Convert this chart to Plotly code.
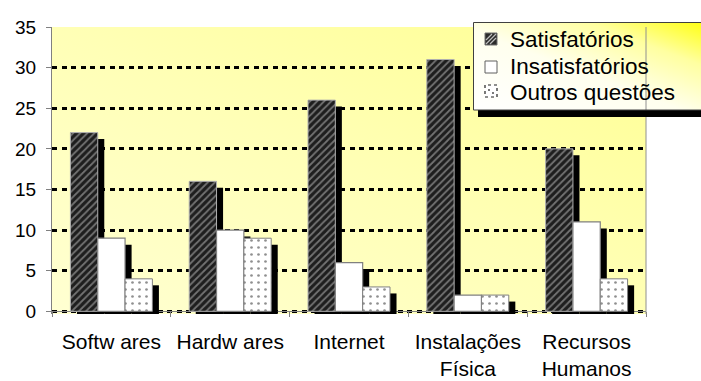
import base64
import plotly.graph_objects as go

# ---------------- data ----------------
categories = ["Softw ares", "Hardw ares", "Internet", "Instalações<br>Física", "Recursos<br>Humanos"]
series_names = ["Satisfatórios", "Insatisfatórios", "Outros questões"]
satisfatorios = [22, 16, 26, 31, 20]
insatisfatorios = [9, 10, 6, 2, 11]
outros = [4, 9, 3, 2, 4]
y_ticks = [0, 5, 10, 15, 20, 25, 30, 35]

# ---------------- geometry helpers ----------------
W, H = 701, 381
ML, MR, MT, MB = 52, 55, 27, 67
Y_MIN, Y_MAX = -0.33, 35
PW, PH = W - ML - MR, H - MT - MB


def px(x):
    return (x - ML) / PW


def py(y):
    return (H - MB - y) / PH


def svg_uri(svg):
    return "data:image/svg+xml;base64," + base64.b64encode(svg.encode()).decode()


plot_bg = svg_uri(
    "<svg xmlns='http://www.w3.org/2000/svg' width='200' height='100' preserveAspectRatio='none'>"
    "<defs><linearGradient id='g' x1='0' y1='1' x2='1' y2='0'>"
    "<stop offset='0' stop-color='#ffffd2'/><stop offset='0.5' stop-color='#ffffb6'/>"
    "<stop offset='1' stop-color='#ffff92'/></linearGradient></defs>"
    "<rect width='200' height='100' fill='url(#g)'/></svg>")
legend_bg = svg_uri(
    "<svg xmlns='http://www.w3.org/2000/svg' width='200' height='100' preserveAspectRatio='none'>"
    "<defs><linearGradient id='g' x1='0' y1='1' x2='1' y2='0'>"
    "<stop offset='0' stop-color='#ffffff'/><stop offset='0.45' stop-color='#ffffee'/>"
    "<stop offset='0.75' stop-color='#ffffa0'/><stop offset='1' stop-color='#ffff10'/></linearGradient></defs>"
    "<rect width='200' height='100' fill='url(#g)'/></svg>")

BW = 0.23
SHX = 0.055
SHY = 0.8
offsets = [-0.345, -0.115, 0.115]
values = [satisfatorios, insatisfatorios, outros]

fig = go.Figure()

# shadows
for vals, off in zip(values, offsets):
    fig.add_trace(go.Bar(
        x=categories, y=[v - SHY - Y_MIN for v in vals], base=Y_MIN,
        offset=off + SHX, width=BW, marker=dict(color="black", line=dict(width=0)),
        showlegend=False, hoverinfo="skip"))

# bars
styles = [
    dict(color="#1e1e1e", line=dict(color="#b0b0b0", width=1),
         pattern=dict(shape="/", fgcolor="#c8c8c8", bgcolor="#1e1e1e", size=5, solidity=0.35)),
    dict(color="white", line=dict(color="#808080", width=1.2)),
    dict(color="white", line=dict(color="#808080", width=1),
         pattern=dict(shape=".", fgcolor="#202020", bgcolor="white", size=7, solidity=0.12)),
]
for name, vals, off, st in zip(series_names, values, offsets, styles):
    fig.add_trace(go.Bar(x=categories, y=vals, offset=off, width=BW, name=name,
                         marker=st, showlegend=False))

FONT = "Liberation Sans, Arial, sans-serif"

shapes = []
annotations = []
# right border of plot area
shapes.append(dict(type="line", xref="paper", yref="paper", x0=1, x1=1, y0=0, y1=1,
                   line=dict(color="#909090", width=1)))
# legend shadow + box
shapes.append(dict(type="rect", xref="paper", yref="paper", layer="above",
                   x0=px(478), x1=px(705), y0=py(117), y1=py(110),
                   fillcolor="black", line=dict(width=0)))
shapes.append(dict(type="rect", xref="paper", yref="paper", layer="above",
                   x0=px(473.5), x1=px(705), y0=py(110), y1=py(22.5),
                   fillcolor="rgba(0,0,0,0)", line=dict(color="#404040", width=1)))
# legend swatches
sw_y = [(33, 45), (61, 73), (85, 97)]
shapes.append(dict(type="rect", xref="paper", yref="paper", layer="above",
                   x0=px(485), x1=px(497), y0=py(sw_y[0][1]), y1=py(sw_y[0][0]),
                   fillcolor="#2a2a2a", line=dict(color="#707070", width=1)))
for d in (-4, 0, 4):
    shapes.append(dict(type="line", xref="paper", yref="paper", layer="above",
                       x0=px(486 + max(d, 0)), y0=py(44 + min(d, 0)),
                       x1=px(496 + min(d, 0)), y1=py(34 + max(d, 0)),
                       line=dict(color="#bdbdbd", width=1.3)))
shapes.append(dict(type="rect", xref="paper", yref="paper", layer="above",
                   x0=px(485), x1=px(497), y0=py(sw_y[1][1]), y1=py(sw_y[1][0]),
                   fillcolor="white", line=dict(color="#606060", width=1)))
shapes.append(dict(type="rect", xref="paper", yref="paper", layer="above",
                   x0=px(485), x1=px(497), y0=py(sw_y[2][1]), y1=py(sw_y[2][0]),
                   fillcolor="white", line=dict(color="#202020", width=1.2, dash="dot")))
for (cx, cy) in [(489, 90), (493, 93)]:
    shapes.append(dict(type="rect", xref="paper", yref="paper", layer="above",
                       x0=px(cx - 0.8), x1=px(cx + 0.8), y0=py(cy + 0.8), y1=py(cy - 0.8),
                       fillcolor="#202020", line=dict(width=0)))

for name, yc in zip(series_names, [40, 66, 92]):
    annotations.append(dict(text=name, xref="paper", yref="paper", x=px(508), y=py(yc),
                            xanchor="left", yanchor="middle", showarrow=False,
                            font=dict(family=FONT, size=22.5, color="black")))

images = [
    dict(source=plot_bg, xref="paper", yref="paper", x=0, y=1, sizex=1, sizey=1,
         sizing="stretch", layer="below", xanchor="left", yanchor="top"),
    dict(source=legend_bg, xref="paper", yref="paper", x=px(473.5), y=py(22.5),
         sizex=px(705) - px(473.5), sizey=py(22.5) - py(110),
         sizing="stretch", layer="above", xanchor="left", yanchor="top"),
]

fig.update_layout(
    width=W, height=H,
    margin=dict(l=ML, r=MR, t=MT, b=MB, pad=0, autoexpand=False),
    paper_bgcolor="white", plot_bgcolor="#ffffc0",
    barmode="overlay", showlegend=False,
    font=dict(family=FONT, color="black"),
    shapes=shapes, annotations=annotations, images=images,
    xaxis=dict(type="category", range=[-0.5, 4.5], anchor="free",
               position=py(H - MB - (0 - Y_MIN) * PH / (Y_MAX - Y_MIN)),
               showline=True, linecolor="#808080", linewidth=1,
               ticks="outside", ticklen=5, tickcolor="#808080", tickson="boundaries",
               ticklabelstandoff=11, automargin=False,
               tickfont=dict(family=FONT, size=21, color="black"), showgrid=False,
               layer="below traces", fixedrange=True),
    yaxis=dict(range=[Y_MIN, Y_MAX], tickvals=y_ticks, ticks="outside", ticklen=5,
               tickcolor="#808080", showline=True, linecolor="#808080", linewidth=1,
               mirror=False, zeroline=False, ticklabelstandoff=6, automargin=False,
               showgrid=True, gridcolor="black", gridwidth=2.5, griddash="5px,4.6px",
               tickfont=dict(family=FONT, size=19, color="black"), fixedrange=True),
)

fig.write_html("out.html")
